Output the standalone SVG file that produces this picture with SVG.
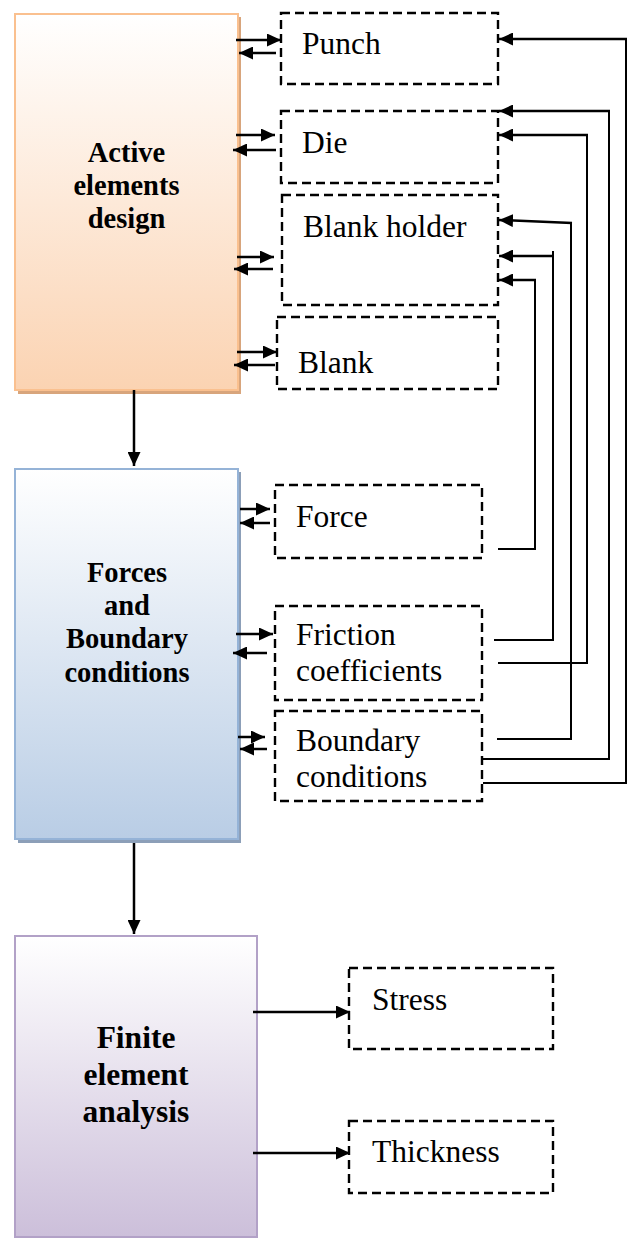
<svg xmlns="http://www.w3.org/2000/svg" width="627" height="1238" viewBox="0 0 627 1238">
  <defs>
    <linearGradient id="gOrange" x1="0" y1="0" x2="0" y2="1">
      <stop offset="0" stop-color="#FFFFFF"/>
      <stop offset="1" stop-color="#FBD3B2"/>
    </linearGradient>
    <linearGradient id="gBlue" x1="0" y1="0" x2="0" y2="1">
      <stop offset="0" stop-color="#FFFFFF"/>
      <stop offset="1" stop-color="#B9CDE5"/>
    </linearGradient>
    <linearGradient id="gPurple" x1="0" y1="0" x2="0" y2="1">
      <stop offset="0" stop-color="#FFFFFF"/>
      <stop offset="1" stop-color="#CCBFDA"/>
    </linearGradient>
    <marker id="arrow" markerUnits="userSpaceOnUse" markerWidth="15" markerHeight="13" refX="14" refY="6.5" orient="auto">
      <path d="M0,0 L14,6.5 L0,13 Z" fill="#000"/>
    </marker>
  </defs>
  <style>
    .dash { fill: none; stroke: #000; stroke-width: 2.4; stroke-dasharray: 9 5; }
    .lbl { font-family: "Liberation Serif", "Times New Roman", serif; font-size: 31.5px; fill: #000; }
    .head { font-family: "Liberation Serif", "Times New Roman", serif; font-size: 28.5px; font-weight: bold; fill: #000; text-anchor: middle; }
    .head3 { font-family: "Liberation Serif", "Times New Roman", serif; font-size: 31.5px; font-weight: bold; fill: #000; text-anchor: middle; }
    .wire { fill: none; stroke: #000; stroke-width: 2; }
    .arr { fill: none; stroke: #000; stroke-width: 2.5; marker-end: url(#arrow); }
  </style>
  <rect width="627" height="1238" fill="#FFFFFF"/>

  <!-- main stages -->
  <g id="active-elements-design">
    <rect x="18" y="17" width="223" height="377" fill="#D8A57C"/>
    <rect x="15" y="14" width="223" height="376" fill="url(#gOrange)" stroke="#FAC08F" stroke-width="2"/>
    <text class="head" x="126.5" y="162">Active</text>
    <text class="head" x="126.5" y="195">elements</text>
    <text class="head" x="126.5" y="228">design</text>
  </g>

  <g id="forces-boundary-conditions">
    <rect x="18" y="472" width="223" height="371" fill="#8C9FB8"/>
    <rect x="15" y="469" width="223" height="370" fill="url(#gBlue)" stroke="#95B3D7" stroke-width="2"/>
    <text class="head" x="127" y="582">Forces</text>
    <text class="head" x="127" y="615">and</text>
    <text class="head" x="127" y="648">Boundary</text>
    <text class="head" x="127" y="681.5">conditions</text>
  </g>

  <g id="finite-element-analysis">
    <rect x="15" y="936" width="242" height="301" fill="url(#gPurple)" stroke="#B2A1C7" stroke-width="2"/>
    <text class="head3" x="136" y="1048">Finite</text>
    <text class="head3" x="136" y="1085">element</text>
    <text class="head3" x="136" y="1121.5">analysis</text>
  </g>

  <!-- design elements -->
  <g id="punch">
    <rect class="dash" x="281" y="13" width="217" height="71"/>
    <text class="lbl" x="302" y="54">Punch</text>
  </g>
  <g id="die">
    <rect class="dash" x="281" y="111" width="217" height="72"/>
    <text class="lbl" x="302" y="153">Die</text>
  </g>
  <g id="blank-holder">
    <rect class="dash" x="282" y="195" width="216" height="110"/>
    <text class="lbl" x="303" y="237">Blank holder</text>
  </g>
  <g id="blank">
    <rect class="dash" x="277" y="317" width="221" height="72"/>
    <text class="lbl" x="298" y="373">Blank</text>
  </g>

  <!-- loads and conditions -->
  <g id="force">
    <rect class="dash" x="275" y="485" width="207" height="73"/>
    <text class="lbl" x="296" y="527">Force</text>
  </g>
  <g id="friction-coefficients">
    <rect class="dash" x="275" y="606" width="207" height="94"/>
    <text class="lbl" x="296" y="645">Friction</text>
    <text class="lbl" x="296" y="681">coefficients</text>
  </g>
  <g id="boundary-conditions">
    <rect class="dash" x="275" y="711" width="207" height="90"/>
    <text class="lbl" x="296" y="751">Boundary</text>
    <text class="lbl" x="296" y="787">conditions</text>
  </g>

  <!-- results -->
  <g id="stress">
    <rect class="dash" x="349" y="968" width="204" height="81"/>
    <text class="lbl" x="372" y="1010">Stress</text>
  </g>
  <g id="thickness">
    <rect class="dash" x="349" y="1121" width="204" height="72"/>
    <text class="lbl" x="372" y="1162">Thickness</text>
  </g>

  <g id="connectors">
    <!-- stage flow -->
    <path class="arr" d="M134,390 V466"/>
    <path class="arr" d="M134,843 V934"/>

    <!-- active elements exchange -->
    <path class="arr" d="M236,40 H281"/>
    <path class="arr" d="M276,53 H239"/>
    <path class="arr" d="M236,135 H275"/>
    <path class="arr" d="M276,150 H233"/>
    <path class="arr" d="M237,257 H274"/>
    <path class="arr" d="M273,269 H234"/>
    <path class="arr" d="M237,352 H277"/>
    <path class="arr" d="M275,365 H234"/>

    <!-- forces and boundary conditions exchange -->
    <path class="arr" d="M240,509 H270"/>
    <path class="arr" d="M270,523 H240"/>
    <path class="arr" d="M236,634 H273"/>
    <path class="arr" d="M267,653 H233"/>
    <path class="arr" d="M238,737 H265"/>
    <path class="arr" d="M267,749 H240"/>

    <!-- feedback routes to the tools -->
    <path class="wire" d="M483,783 H626 V39"/>
    <path class="arr" d="M627,39 H499"/>
    <path class="wire" d="M483,759 H609 V111"/>
    <path class="arr" d="M610,111 H499"/>
    <path class="wire" d="M498,663 H587 V135"/>
    <path class="arr" d="M588,135 H499"/>
    <path class="wire" d="M497,739 H571 V223"/>
    <path class="arr" d="M572,223 L499,220"/>
    <path class="wire" d="M494,640 H553 V251"/>
    <path class="arr" d="M554,256 H499"/>
    <path class="wire" d="M498,549 H535 V280"/>
    <path class="arr" d="M536,280 H499"/>

    <!-- analysis outputs -->
    <path class="arr" d="M253,1012 H350"/>
    <path class="arr" d="M253,1153 H350"/>
  </g>
</svg>
